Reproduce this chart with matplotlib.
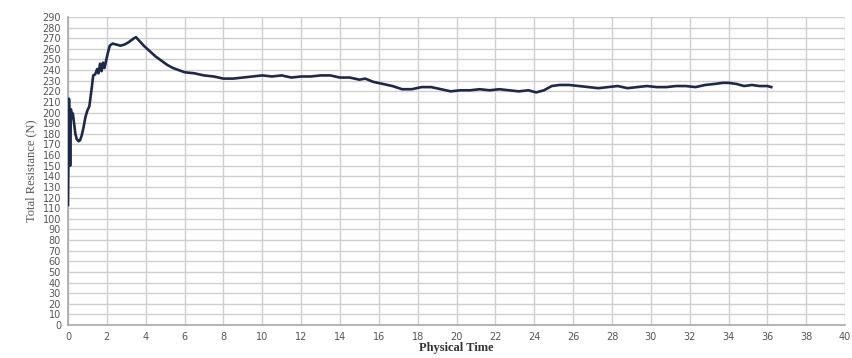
import matplotlib
matplotlib.use("Agg")
import matplotlib.pyplot as plt
import numpy as np

# Physical time and total resistance
time = [0.0, 0.02, 0.05, 0.08, 0.11, 0.15, 0.2, 0.25, 0.3, 0.38, 0.45, 0.55, 0.62, 0.7,
        0.8, 0.9, 1.0, 1.1, 1.2, 1.3, 1.4, 1.5, 1.57, 1.65, 1.73, 1.8, 1.88, 1.95, 2.05,
        2.15, 2.3, 2.5, 2.7, 2.9, 3.1, 3.25, 3.4, 3.5, 3.7, 3.9, 4.2, 4.5, 4.8, 5.1, 5.4,
        5.7, 6.0, 6.5, 7.0, 7.5, 8.0, 8.5, 9.0, 9.5, 10.0, 10.5, 11.0, 11.5, 12.0, 12.5,
        13.0, 13.5, 14.0, 14.5, 15.0, 15.3, 15.7, 16.2, 16.7, 17.2, 17.7, 18.2, 18.7,
        19.2, 19.7, 20.2, 20.7, 21.2, 21.7, 22.2, 22.7, 23.2, 23.7, 24.1, 24.5, 24.9,
        25.3, 25.8, 26.3, 26.8, 27.3, 27.8, 28.3, 28.8, 29.3, 29.8, 30.3, 30.8, 31.3,
        31.8, 32.3, 32.8, 33.3, 33.7, 34.0, 34.4, 34.8, 35.2, 35.6, 36.0, 36.2]
resistance = [113, 150, 213, 185, 150, 203, 195, 199, 192, 180, 175, 173, 174, 178,
              186, 196, 202, 206, 220, 235, 236, 241, 237, 246, 239, 247, 242, 248, 256,
              263, 265, 264, 263, 264, 266, 268, 270, 271, 267, 263, 258, 253, 249, 245, 242,
              240, 238, 237, 235, 234, 232, 232, 233, 234, 235, 234, 235, 233, 234, 234,
              235, 235, 233, 233, 231, 232, 229, 227, 225, 222, 222, 224, 224,
              222, 220, 221, 221, 222, 221, 222, 221, 220, 221, 219, 221, 225,
              226, 226, 225, 224, 223, 224, 225, 223, 224, 225, 224, 224, 225,
              225, 224, 226, 227, 228, 228, 227, 225, 226, 225, 225, 224]

x_ticks = list(range(0, 41, 2))
y_ticks = list(range(0, 291, 10))

fig = plt.figure(figsize=(8.53, 3.58), dpi=100)
ax = fig.add_axes([0.0797, 0.0922, 0.9110, 0.8603])

ax.plot(time[1:8], resistance[1:8], color="#2f5faa", lw=1.6, zorder=3)
ax.plot(time, resistance, color="#1d2947", lw=1.9, solid_joinstyle="round", zorder=4)

ax.set_xlim(0, 40)
ax.set_ylim(0, 290)
ax.set_xticks(x_ticks)
ax.set_yticks(y_ticks)
ax.grid(True, color="#cfcfcf", lw=1.0)
ax.set_axisbelow(True)
for s in ["top", "right"]:
    ax.spines[s].set_visible(False)
for s in ["left", "bottom"]:
    ax.spines[s].set_color("#a8a8a8")
    ax.spines[s].set_linewidth(1.2)
ax.tick_params(length=0, labelsize=7, colors="#555555", pad=5)
for lab in ax.get_xticklabels() + ax.get_yticklabels():
    lab.set_fontfamily("DejaVu Sans")

ax.set_xlabel("Physical Time", fontfamily="Liberation Serif", fontweight="bold",
              fontsize=9, color="#333333", labelpad=0)
ax.set_ylabel("Total Resistance (N)", fontfamily="Liberation Serif", fontsize=9,
              color="#555555", labelpad=4)

fig.savefig("out.png", dpi=100)
